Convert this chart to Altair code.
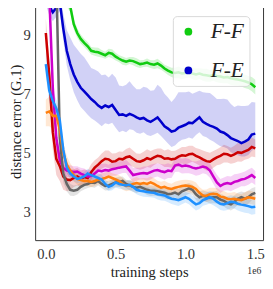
import altair as alt
import pandas as pd

# training steps (in units of 1e6), sampled every 0.025e6
steps = [round(0.025 * i, 3) for i in range(61)]

series_names = ["F-F", "F-E", "S3", "S4", "S5", "S6", "S7"]
series_colors = ["#11cc11", "#0000cc", "#cc0000", "#cc00cc", "#666666", "#ff7f0e", "#1e90ff"]
legend_names = ["F-F", "F-E"]
legend_colors = ["#11cc11", "#0000cc"]

ff = [14.0, 13.5, 13.0, 12.2, 11.3, 10.6, 10.2, 9.95, 9.35, 9.05,
      8.85, 8.72, 8.6, 8.45, 8.42, 8.4, 8.35, 8.3, 8.38, 8.35,
      8.25, 8.18, 8.12, 8.08, 8.12, 8.1, 8.05, 8.0, 8.02, 8.05,
      8.0, 7.98, 8.02, 7.95, 7.85, 7.78, 7.72, 7.7, 7.72, 7.68,
      7.7, 7.72, 7.68, 7.65, 7.68, 7.64, 7.62, 7.6, 7.63, 7.6,
      7.58, 7.55, 7.56, 7.52, 7.5, 7.48, 7.45, 7.42, 7.38, 7.32,
      7.22]
ff_hw = [0.3, 0.3, 0.3, 0.3, 0.3, 0.3, 0.25, 0.2, 0.18, 0.16,
         0.15, 0.14, 0.15, 0.13, 0.14, 0.15, 0.13, 0.12, 0.14, 0.15,
         0.13, 0.12, 0.14, 0.13, 0.12, 0.14, 0.15, 0.13, 0.12, 0.14,
         0.13, 0.15, 0.16, 0.14, 0.13, 0.15, 0.16, 0.18, 0.2, 0.19,
         0.18, 0.17, 0.19, 0.2, 0.18, 0.2, 0.22, 0.2, 0.19, 0.21,
         0.22, 0.2, 0.21, 0.23, 0.22, 0.2, 0.21, 0.23, 0.22, 0.24,
         0.25]

fe = [10.3, 9.95, 9.75, 9.9, 10.1, 9.2, 8.45, 8.0, 7.65, 7.4,
      7.2, 7.08, 6.95, 6.82, 6.72, 6.6, 6.52, 6.6, 6.55, 6.62,
      6.45, 6.28, 6.3, 6.25, 6.32, 6.27, 6.2, 6.15, 6.18, 6.1,
      6.05, 6.12, 6.2, 6.05, 5.9, 5.82, 5.72, 5.75, 5.85, 5.9,
      5.95, 6.02, 6.0, 6.1, 6.2, 6.05, 5.98, 5.92, 5.88, 5.82,
      5.72, 5.68, 5.6, 5.5, 5.45, 5.4, 5.33, 5.38, 5.45, 5.62,
      5.65]
fe_up = [0.3, 0.3, 0.3, 0.3, 0.3, 0.5, 0.7, 0.9, 1.0, 1.1,
         1.15, 1.15, 1.1, 1.05, 1.1, 1.15, 1.1, 1.05, 1.0, 1.05,
         1.1, 1.0, 0.95, 1.05, 1.1, 1.0, 0.95, 1.0, 1.05, 1.1,
         1.05, 1.0, 1.1, 1.15, 1.1, 1.05, 1.0, 1.1, 1.2, 1.15,
         1.1, 1.05, 1.0, 0.95, 0.9, 1.0, 1.05, 1.1, 1.05, 1.0,
         1.1, 1.15, 1.2, 1.15, 1.1, 1.2, 1.25, 1.2, 1.15, 1.1,
         1.05]
fe_dn = [0.3, 0.3, 0.3, 0.3, 0.3, 0.4, 0.5, 0.55, 0.6, 0.62,
         0.65, 0.66, 0.66, 0.65, 0.63, 0.6, 0.62, 0.6, 0.58, 0.6,
         0.6, 0.58, 0.55, 0.55, 0.52, 0.5, 0.52, 0.5, 0.48, 0.5,
         0.48, 0.5, 0.52, 0.48, 0.46, 0.5, 0.52, 0.5, 0.48, 0.46,
         0.48, 0.5, 0.52, 0.5, 0.5, 0.48, 0.45, 0.48, 0.5, 0.52,
         0.5, 0.48, 0.45, 0.48, 0.5, 0.48, 0.45, 0.5, 0.52, 0.55,
         0.5]

s3 = [9.05, 7.6, 5.7, 4.8, 4.55, 4.2, 4.1, 4.08, 4.15, 4.2,
      4.12, 4.18, 4.15, 4.35, 4.5, 4.6, 4.72, 4.8, 4.78, 4.7,
      4.72, 4.8, 4.78, 4.85, 4.88, 4.8, 4.72, 4.7, 4.75, 4.82,
      4.78, 4.85, 4.9, 4.88, 4.8, 4.82, 4.78, 4.8, 4.87, 4.92,
      4.9, 4.95, 4.97, 4.9, 4.85, 4.78, 4.72, 4.7, 4.78, 4.85,
      4.9, 4.97, 4.95, 4.9, 4.95, 5.02, 5.0, 5.05, 5.1, 5.2,
      5.15]
s3_hw = [0.5, 0.55, 0.6, 0.55, 0.5, 0.45, 0.4, 0.35, 0.3, 0.3,
         0.28, 0.26, 0.25, 0.27, 0.25, 0.24, 0.26, 0.28, 0.3, 0.28,
         0.27, 0.25, 0.26, 0.28, 0.3, 0.28, 0.26, 0.27, 0.29, 0.3,
         0.28, 0.26, 0.25, 0.27, 0.28, 0.3, 0.28, 0.27, 0.26, 0.28,
         0.3, 0.29, 0.27, 0.26, 0.28, 0.3, 0.32, 0.3, 0.28, 0.27,
         0.29, 0.3, 0.28, 0.27, 0.29, 0.31, 0.3, 0.28, 0.3, 0.32,
         0.3]

s4 = [11.5, 10.3, 7.2, 5.5, 4.75, 4.5, 4.4, 4.38, 4.35, 4.37,
      4.3, 4.25, 4.2, 4.22, 4.3, 4.4, 4.38, 4.42, 4.4, 4.45,
      4.47, 4.5, 4.52, 4.54, 4.4, 4.25, 4.28, 4.3, 4.32, 4.3,
      4.35, 4.4, 4.42, 4.38, 4.35, 4.4, 4.38, 4.57, 4.6, 4.55,
      4.57, 4.55, 4.5, 4.47, 4.5, 4.54, 4.5, 4.4, 4.2, 4.0,
      3.88, 3.95, 3.98, 3.95, 4.02, 4.05, 4.1, 4.12, 4.18, 4.25,
      4.15]
s4_hw = [0.3, 0.3, 0.3, 0.3, 0.28, 0.25, 0.22, 0.2, 0.2, 0.18,
         0.2, 0.22, 0.2, 0.18, 0.2, 0.22, 0.24, 0.22, 0.2, 0.22,
         0.24, 0.22, 0.2, 0.22, 0.25, 0.24, 0.22, 0.2, 0.22, 0.24,
         0.25, 0.23, 0.22, 0.24, 0.26, 0.25, 0.23, 0.22, 0.24, 0.25,
         0.26, 0.24, 0.22, 0.24, 0.25, 0.23, 0.22, 0.24, 0.25, 0.26,
         0.24, 0.22, 0.24, 0.25, 0.26, 0.24, 0.23, 0.25, 0.26, 0.25,
         0.24]

s5 = [12.0, 12.0, 11.5, 11.0, 5.5, 4.3, 3.95, 3.75, 3.72, 3.75,
      3.85, 3.92, 3.95, 4.0, 3.98, 4.05, 3.95, 3.88, 3.9, 3.95,
      4.0, 4.02, 4.05, 3.95, 3.9, 3.85, 3.82, 3.85, 3.8, 3.75,
      3.72, 3.72, 3.7, 3.68, 3.65, 3.6, 3.62, 3.66, 3.6, 3.7,
      3.75, 3.8, 3.75, 3.6, 3.5, 3.55, 3.52, 3.48, 3.5, 3.5,
      3.42, 3.38, 3.3, 3.26, 3.35, 3.45, 3.5, 3.45, 3.5, 3.6,
      3.65]
s5_hw = [0.3, 0.3, 0.3, 0.3, 0.3, 0.3, 0.25, 0.2, 0.18, 0.16,
         0.15, 0.16, 0.14, 0.15, 0.16, 0.15, 0.14, 0.15, 0.16, 0.15,
         0.16, 0.17, 0.15, 0.14, 0.16, 0.17, 0.18, 0.16, 0.15, 0.17,
         0.18, 0.17, 0.16, 0.18, 0.19, 0.18, 0.17, 0.16, 0.18, 0.2,
         0.19, 0.18, 0.17, 0.19, 0.2, 0.18, 0.17, 0.19, 0.2, 0.21,
         0.2, 0.19, 0.2, 0.21, 0.22, 0.2, 0.19, 0.21, 0.22, 0.2,
         0.2]

s6 = [6.35, 6.4, 6.25, 6.25, 5.8, 5.0, 4.6, 4.4, 4.25, 4.12,
      4.08, 4.05, 4.05, 4.02, 4.05, 4.1, 4.12, 4.15, 4.2, 4.15,
      4.1, 4.05, 3.95, 3.88, 3.9, 3.95, 3.98, 3.95, 3.98, 3.95,
      4.0, 3.95, 3.88, 3.82, 3.85, 3.8, 3.78, 3.82, 3.85, 3.88,
      3.9, 3.88, 3.85, 3.78, 3.65, 3.56, 3.55, 3.6, 3.62, 3.6,
      3.52, 3.5, 3.45, 3.43, 3.45, 3.42, 3.4, 3.45, 3.5, 3.48,
      3.45]
s6_hw = [0.45, 0.5, 0.45, 0.42, 0.4, 0.35, 0.3, 0.25, 0.22, 0.2,
         0.18, 0.17, 0.16, 0.18, 0.17, 0.16, 0.18, 0.19, 0.17, 0.16,
         0.18, 0.19, 0.2, 0.18, 0.17, 0.19, 0.2, 0.18, 0.17, 0.19,
         0.2, 0.19, 0.18, 0.2, 0.21, 0.19, 0.18, 0.2, 0.21, 0.2,
         0.19, 0.2, 0.21, 0.22, 0.2, 0.19, 0.21, 0.22, 0.2, 0.21,
         0.22, 0.21, 0.2, 0.22, 0.23, 0.21, 0.2, 0.22, 0.23, 0.22,
         0.22]

s7 = [8.0, 7.1, 6.75, 6.5, 6.1, 5.1, 4.5, 4.3, 4.2, 4.12,
      4.15, 4.2, 4.3, 4.25, 4.2, 4.15, 4.1, 3.95, 3.85, 3.9,
      4.0, 3.95, 3.92, 3.9, 3.92, 3.85, 3.75, 3.72, 3.7, 3.68,
      3.66, 3.65, 3.6, 3.58, 3.56, 3.5, 3.45, 3.43, 3.4, 3.45,
      3.5, 3.45, 3.35, 3.26, 3.3, 3.4, 3.45, 3.5, 3.45, 3.35,
      3.28, 3.26, 3.3, 3.35, 3.33, 3.28, 3.25, 3.23, 3.2, 3.16,
      3.18]
s7_hw = [0.4, 0.4, 0.35, 0.3, 0.3, 0.25, 0.2, 0.18, 0.16, 0.15,
         0.14, 0.15, 0.16, 0.15, 0.14, 0.15, 0.16, 0.15, 0.14, 0.16,
         0.17, 0.16, 0.15, 0.16, 0.17, 0.16, 0.15, 0.17, 0.18, 0.17,
         0.16, 0.17, 0.18, 0.19, 0.18, 0.17, 0.18, 0.19, 0.2, 0.19,
         0.18, 0.19, 0.2, 0.21, 0.2, 0.19, 0.2, 0.21, 0.22, 0.2,
         0.21, 0.22, 0.23, 0.22, 0.21, 0.23, 0.24, 0.25, 0.24, 0.25,
         0.25]

series_vals = [ff, fe, s3, s4, s5, s6, s7]
series_up = [ff_hw, fe_up, s3_hw, s4_hw, s5_hw, s6_hw, s7_hw]
series_dn = [ff_hw, fe_dn, s3_hw, s4_hw, s5_hw, s6_hw, s7_hw]

rows = []
for name, vals, up, dn in zip(series_names, series_vals, series_up, series_dn):
    for s, v, u, d in zip(steps, vals, up, dn):
        rows.append({"series": name, "step": s, "err": v, "lo": v - d, "hi": v + u})
df = pd.DataFrame(rows)

serif = "Liberation Serif"
cscale = alt.Scale(domain=series_names, range=series_colors)
lscale = alt.Scale(domain=legend_names, range=legend_colors)
xscale = alt.Scale(domain=[-0.0764, 1.5556], nice=False, zero=False)
yscale = alt.Scale(domain=[2.05, 10.08], nice=False, zero=False)
xaxis = alt.Axis(values=[0, 0.5, 1.0, 1.5], format=".1f", title="training steps")
yaxis = alt.Axis(values=[3, 5, 7, 9], format="d", title="distance error (G.1)")

bands = alt.Chart(df).mark_area(clip=True, opacity=0.18).encode(
    x=alt.X("step:Q", scale=xscale, axis=xaxis),
    y=alt.Y("lo:Q", scale=yscale, axis=yaxis),
    y2="hi:Q",
    fill=alt.Fill("series:N", scale=cscale, legend=None),
    detail="series:N",
)

lines = alt.Chart(df).mark_line(clip=True, strokeWidth=2.6).encode(
    x=alt.X("step:Q", scale=xscale, axis=xaxis),
    y=alt.Y("err:Q", scale=yscale, axis=yaxis),
    stroke=alt.Stroke("series:N", scale=cscale, legend=None),
)

# invisible points (only F-F and F-E) whose only job is to carry the legend
legend_layer = alt.Chart(df).transform_filter(
    alt.FieldOneOfPredicate(field="series", oneOf=legend_names)
).mark_point(filled=True, size=60, opacity=0).encode(
    x=alt.X("step:Q", scale=xscale, axis=xaxis),
    y=alt.Y("err:Q", scale=yscale, axis=yaxis),
    color=alt.Color(
        "series:N", scale=lscale,
        legend=alt.Legend(
            orient="top-right", offset=14, title=None,
            symbolType="circle", symbolSize=64,
            symbolOpacity=1, symbolStrokeWidth=0,
            labelFont=serif, labelFontStyle="italic", labelFontSize=22,
            labelColor="#222222", labelOffset=12, padding=5, rowPadding=18,
            fillColor="rgba(255,255,255,0.8)", strokeColor="#d8d8d8",
            cornerRadius=4,
        ),
    ),
)

exp_df = pd.DataFrame({"t": ["1e6"]})
exp_text = alt.Chart(exp_df).mark_text(
    font=serif, fontSize=10, color="#333333", align="center", baseline="middle"
).encode(x=alt.value(226), y=alt.value(277), text="t:N")

chart = alt.layer(bands, lines, legend_layer, exp_text).properties(
    width=235, height=245,
    autosize=alt.AutoSizeParams(type="none"),
    padding={"left": 28, "top": -10, "right": 2, "bottom": 46},
).configure_view(
    stroke="#333333", strokeWidth=1,
).configure_axis(
    labelFont=serif, labelFontSize=15, labelColor="#333333",
    titleFont=serif, titleFontSize=15, titleFontWeight="normal", titleColor="#222222",
    ticks=False, domain=False, grid=False, labelPadding=5,
).configure_axisY(titlePadding=0).configure_axisX(titlePadding=4, labelPadding=7)

chart.save("out.html", embed_options={"renderer": "svg", "actions": False})
